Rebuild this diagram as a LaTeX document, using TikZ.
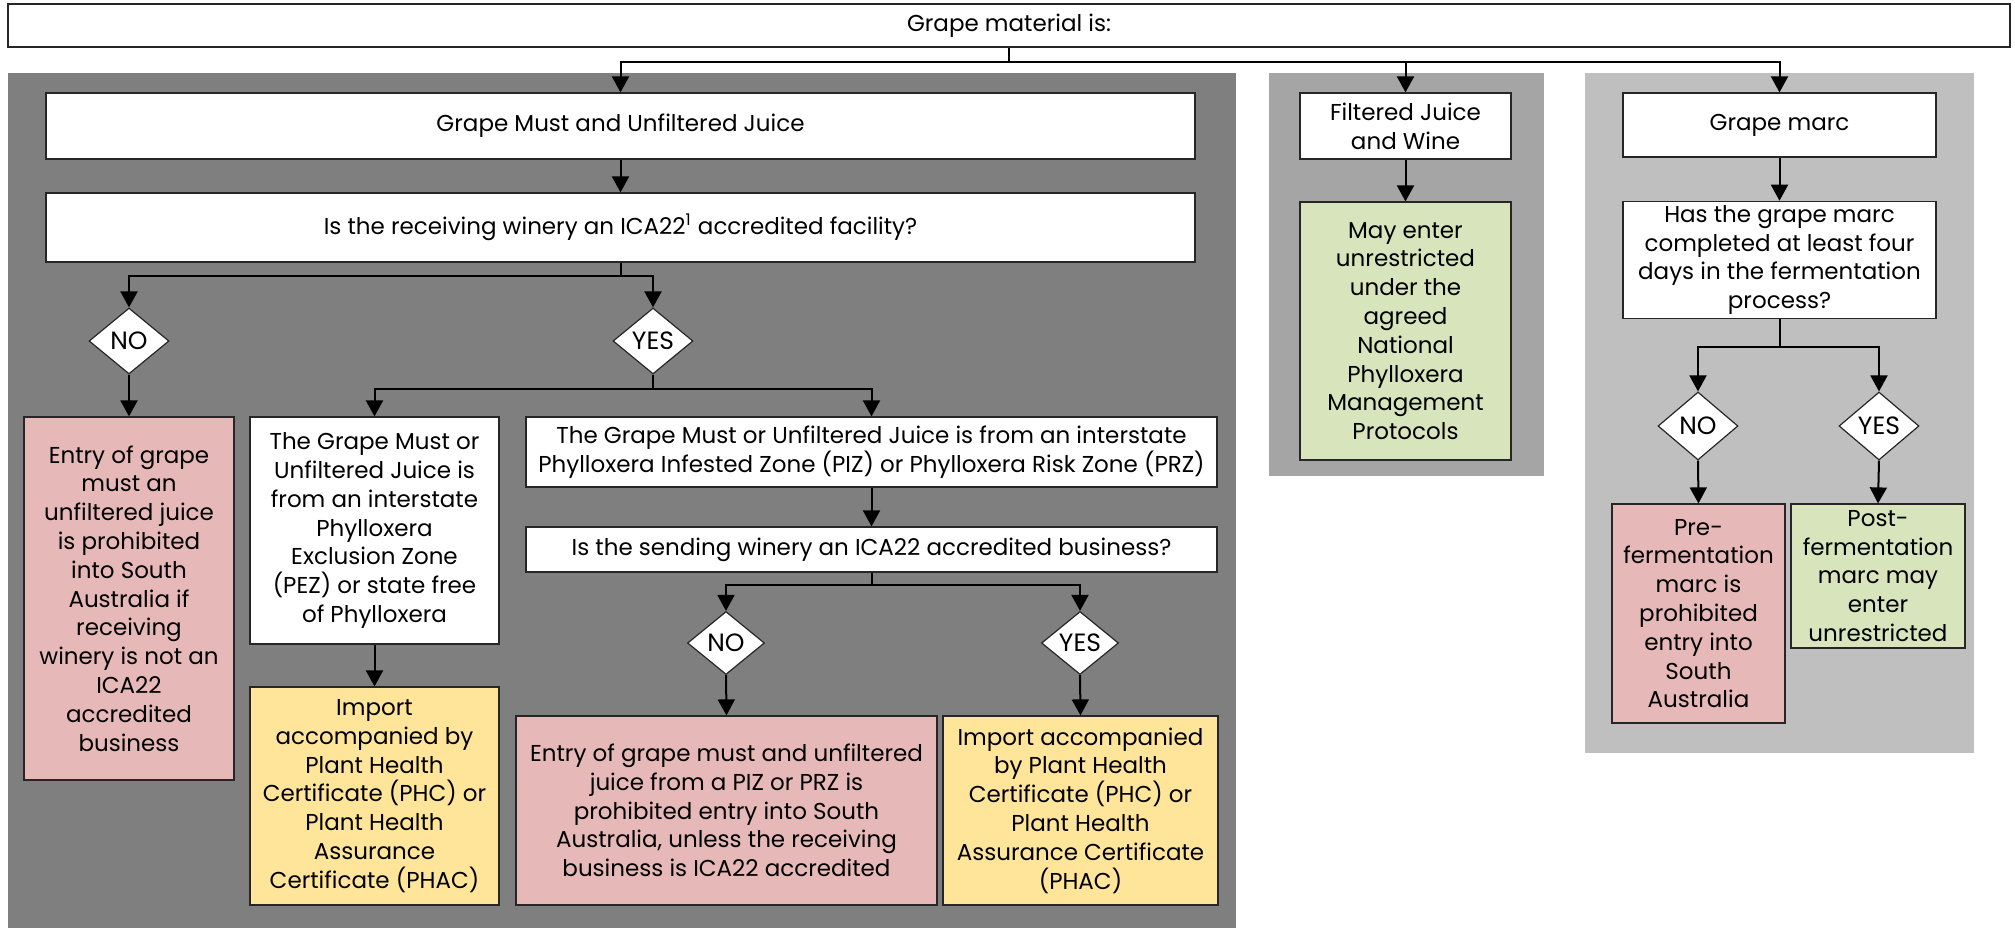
\documentclass[tikz,border=0pt]{standalone}
\usepackage{fontspec}
\setmainfont{Poppins}
\usetikzlibrary{arrows.meta,shapes.geometric}
\definecolor{panelDark}{HTML}{7F7F7F}
\definecolor{panelMid}{HTML}{A5A5A5}
\definecolor{panelLight}{HTML}{BFBFBF}
\definecolor{stopRed}{HTML}{E6B9B8}
\definecolor{certYellow}{HTML}{FFE599}
\definecolor{goGreen}{HTML}{D8E4BC}

\begin{document}
\begin{tikzpicture}[x=0.5pt,y=-0.5pt,
  every node/.style={font=\fontsize{11.5}{14.4}\selectfont, align=center, text=black},
  box/.style={draw=black!85, line width=0.6pt, fill=white, inner sep=2pt},
  decision/.style={diamond, draw=black!85, line width=0.6pt, fill=white, inner sep=0pt,
                   minimum width=40pt, minimum height=33pt, font=\fontsize{12.5}{14.4}\selectfont},
  arr/.style={line width=1pt, -{Triangle[width=8.5pt,length=8pt]}},
]
\useasboundingbox (0,0) rectangle (2015,928);

% background panels for the three kinds of material
\fill[panelDark]  (8,73)    rectangle (1236,928);
\fill[panelMid]   (1269,73) rectangle (1544,476);
\fill[panelLight] (1585,73) rectangle (1974,753);

% heading
\node[box, minimum width=1001pt, minimum height=21.5pt] (top) at (1009,25.5) {Grape material is:};

% grape must and unfiltered juice
\node[box, minimum width=574.5pt, minimum height=33pt] (must) at (620.5,126) {Grape Must and Unfiltered Juice};
\node[box, minimum width=574.5pt, minimum height=34.5pt] (ica) at (620.5,227.5)
  {Is the receiving winery an ICA22\textsuperscript{1} accredited facility?};
\node[decision] (no1) at (129,341) {NO};
\node[decision] (yes1) at (653,341) {YES};
\node[box, fill=stopRed, minimum width=105pt, minimum height=181.5pt] (red1) at (129,598.5)
  {Entry of grape\\must an\\unfiltered juice\\is prohibited\\into South\\Australia if\\receiving\\winery is not an\\ICA22\\accredited\\business};
\node[box, minimum width=124.5pt, minimum height=113.5pt] (pez) at (374.5,530.5)
  {The Grape Must or\\Unfiltered Juice is\\from an interstate\\Phylloxera\\Exclusion Zone\\(PEZ) or state free\\of Phylloxera};
\node[box, fill=certYellow, minimum width=124.5pt, minimum height=109pt] (yel1) at (374.5,796)
  {Import\\accompanied by\\Plant Health\\Certificate (PHC) or\\Plant Health\\Assurance\\Certificate (PHAC)};
\node[box, minimum width=345.5pt, minimum height=35pt] (piz) at (871.5,452)
  {The Grape Must or Unfiltered Juice is from an interstate\\Phylloxera Infested Zone (PIZ) or Phylloxera Risk Zone (PRZ)};
\node[box, minimum width=345.5pt, minimum height=22.5pt] (send) at (871.5,549.5)
  {Is the sending winery an ICA22 accredited business?};
\node[decision, minimum width=38.5pt, minimum height=31.5pt] (no2) at (726,643) {NO};
\node[decision, minimum width=38.5pt, minimum height=31.5pt] (yes2) at (1080,643) {YES};
\node[box, fill=stopRed, minimum width=210.5pt, minimum height=94.5pt] (red2) at (726.5,810.5)
  {Entry of grape must and unfiltered\\juice from a PIZ or PRZ is\\prohibited entry into South\\Australia, unless the receiving\\business is ICA22 accredited};
\node[box, fill=certYellow, minimum width=137.5pt, minimum height=94.5pt] (yel2) at (1080.5,810.5)
  {Import accompanied\\by Plant Health\\Certificate (PHC) or\\Plant Health\\Assurance Certificate\\(PHAC)};

% filtered juice and wine
\node[box, minimum width=105.5pt, minimum height=33pt] (filt) at (1405.5,126) {Filtered Juice\\and Wine};
\node[box, fill=goGreen, minimum width=105.5pt, minimum height=129pt] (green1) at (1405.5,331)
  {May enter\\unrestricted\\under the\\agreed\\National\\Phylloxera\\Management\\Protocols};

% grape marc
\node[box, minimum width=156.5pt, minimum height=32pt] (marc) at (1779.5,125) {Grape marc};
\node[box, minimum width=156.5pt, minimum height=57pt] (has) at (1779.5,260)
  {Has the grape marc\\completed at least four\\days in the fermentation\\process?};
\node[decision, minimum height=34pt] (no3) at (1698,426) {NO};
\node[decision, minimum height=34pt] (yes3) at (1879,426) {YES};
\node[box, fill=stopRed, minimum width=86.5pt, minimum height=109.5pt] (red3) at (1698.5,613.5)
  {Pre-\\fermentation\\marc is\\prohibited\\entry into\\South\\Australia};
\node[box, fill=goGreen, minimum width=87pt, minimum height=72pt] (green2) at (1878,576)
  {Post-\\fermentation\\marc may\\enter\\unrestricted};

% branch points
\coordinate (j0) at (1009,62);
\coordinate (j1) at (620.5,276);
\coordinate (j2) at (653,389);
\coordinate (j3) at (871.5,585);
\coordinate (j4) at (1779.5,347);

% connectors
\draw[arr] (top.south) -- (j0) -| (must.north);
\draw[arr] (top.south) -- (j0) -| (filt.north);
\draw[arr] (top.south) -- (j0) -| (marc.north);

\draw[arr] (must.south) -- (ica.north);
\draw[arr] (ica.south) -- (j1) -| (no1.north);
\draw[arr] (ica.south) -- (j1) -| (yes1.north);
\draw[arr] (no1.south) -- (red1.north);
\draw[arr] (yes1.south) |- (j2) -| (pez.north);
\draw[arr] (yes1.south) |- (j2) -| (piz.north);
\draw[arr] (pez.south) -- (yel1.north);
\draw[arr] (piz.south) -- (send.north);
\draw[arr] (send.south) -- (j3) -| (no2.north);
\draw[arr] (send.south) -- (j3) -| (yes2.north);
\draw[arr] (no2.south) -- (red2.north);
\draw[arr] (yes2.south) -- (yel2.north);

\draw[arr] (filt.south) -- (green1.north);

\draw[arr] (marc.south) -- (has.north);
\draw[arr] (has.south) -- (j4) -| (no3.north);
\draw[arr] (has.south) -- (j4) -| (yes3.north);
\draw[arr] (no3.south) -- (red3.north);
\draw[arr] (yes3.south) -- (green2.north);
\end{tikzpicture}
\end{document}
